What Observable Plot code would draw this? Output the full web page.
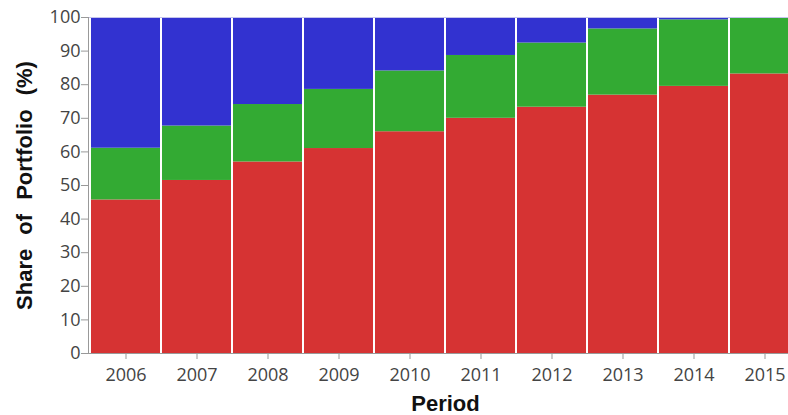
<!DOCTYPE html>
<html>
<head>
<meta charset="utf-8">
<script src="https://cdn.jsdelivr.net/npm/d3@7"></script>
<script src="https://cdn.jsdelivr.net/npm/@observablehq/plot@0.6"></script>
<style>
  html, body { margin: 0; padding: 0; background: #fff; overflow: hidden; }
  #chart { width: 788px; height: 415px; overflow: hidden; }
</style>
</head>
<body>
<div id="chart"></div>
<script>
const periods = ["2006","2007","2008","2009","2010","2011","2012","2013","2014","2015"];
const seriesNames = ["Series 1", "Series 2", "Series 3"];
const series1 = [45.7, 51.5, 57.0, 61.0, 66.0, 70.0, 73.3, 76.9, 79.5, 83.2];
const series2 = [15.4, 16.2, 17.1, 17.6, 18.1, 18.7, 19.1, 19.7, 19.8, 16.8];
const series3 = [38.9, 32.3, 25.9, 21.4, 15.9, 11.3, 7.6, 3.4, 0.7, 0.0];
const yTicks = [0, 10, 20, 30, 40, 50, 60, 70, 80, 90, 100];
const colors = ["#d63333", "#33aa33", "#3232d0"];

const rows = [];
[series1, series2, series3].forEach((vals, s) => {
  periods.forEach((p, i) => rows.push({period: p, series: seriesNames[s], value: vals[i]}));
});

const plot = Plot.plot({
  width: 788,
  height: 415,
  marginLeft: 88,
  marginRight: -14,
  marginTop: 17,
  marginBottom: 62,
  style: {fontFamily: "'Open Sans', sans-serif", background: "#fff"},
  x: {domain: periods, padding: 0},
  y: {domain: [0, 100]},
  color: {domain: seriesNames, range: colors},
  marks: [
    Plot.barY(rows, {x: "period", y: "value", fill: "series", insetLeft: 1, insetRight: 1}),
    Plot.ruleY([100], {stroke: "#c4c4ec", strokeWidth: 1}),
    Plot.frame({anchor: "left", stroke: "#999"}),
    Plot.frame({anchor: "bottom", stroke: "#999"}),
    Plot.axisY({ticks: yTicks, tickSize: 7, tickPadding: 1, fontSize: 18, color: "#444", stroke: "#999", label: null}),
    Plot.axisX({tickSize: 6, tickPadding: 9, fontSize: 18, color: "#444", stroke: "#999", label: null}),
    Plot.text(["Period"], {frameAnchor: "bottom", dy: 57, fontSize: 22, fontWeight: "bold", fill: "#111", fontFamily: "'Liberation Sans', Arial, sans-serif"}),
    Plot.text(["Share of Portfolio (%)"], {frameAnchor: "left", textAnchor: "middle", rotate: -90, dx: -64, fontSize: 22, fontWeight: "bold", fill: "#111", fontFamily: "'Liberation Sans', Arial, sans-serif"})
  ]
});
d3.select(plot).selectAll("text").filter(function() { return this.textContent === "Share of Portfolio (%)"; }).style("word-spacing", "8px");
document.getElementById("chart").appendChild(plot);
</script>
</body>
</html>
